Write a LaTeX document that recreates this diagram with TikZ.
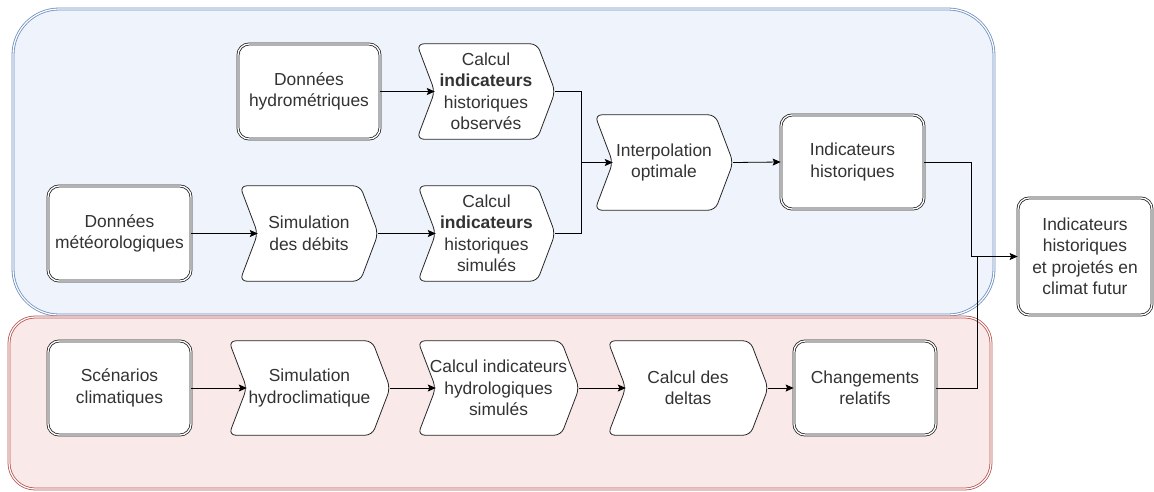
\documentclass[tikz,border=0pt]{standalone}
\usepackage{fontspec}
\setmainfont{Liberation Sans}
\usetikzlibrary{arrows.meta}
\definecolor{txt}{HTML}{333333}
\definecolor{bfill}{RGB}{239,243,251}
\definecolor{bstroke}{HTML}{6C8EBF}
\definecolor{rfill}{RGB}{250,233,233}
\definecolor{rstroke}{HTML}{B85450}
\pgfdeclarelayer{back}
\pgfdeclarelayer{mid}
\pgfsetlayers{back,mid,main}
\newcommand\chevdraw[1]{%
  \begin{pgfonlayer}{mid}
    \draw[chevline] (#1.north west) -- ([xshift=-18pt]#1.north east) -- (#1.east)
      -- ([xshift=-18pt]#1.south east) -- (#1.south west) -- ([xshift=18pt]#1.west) -- cycle;
  \end{pgfonlayer}}
\begin{document}
\begin{tikzpicture}[x=1pt,y=-1pt,
  lbl/.style={font=\fontsize{17.4}{21.5}\selectfont, text=txt, align=center, inner sep=0pt},
  dbox/.style={lbl, draw=black!85, double=white, double distance=1.3pt, line width=0.8pt,
               rounded corners=11pt, fill=white},
  chevline/.style={draw=black!85, line width=0.8pt, fill=white, rounded corners=7pt},
  container/.style={rectangle, line width=0.8pt, double=white, double distance=1.2pt, inner sep=0pt},
  conn/.style={draw=black, line width=0.8pt},
  arr/.style={conn, -{Stealth[length=8pt,width=7pt,inset=1.5pt]}}]
\useasboundingbox (0,0) rectangle (1154,491);

\begin{pgfonlayer}{back}
  \node[container, draw=bstroke, fill=bfill, rounded corners=46pt,
        minimum width=981pt, minimum height=306pt] (blue) at (503.5,162) {};
  \node[container, draw=rstroke, fill=rfill, rounded corners=26pt,
        minimum width=982pt, minimum height=172pt] (red) at (500,403) {};
\end{pgfonlayer}

% row 1
\node[dbox, minimum width=142pt, minimum height=95pt] (hydro) at (309,91.5) {Données\\hydrométriques};
\node[lbl, minimum width=138pt, minimum height=95pt] (obs) at (486,91.5) {Calcul\\\textbf{indicateurs}\\historiques\\observés};
\chevdraw{obs}
% row 2
\node[dbox, minimum width=143pt, minimum height=95pt] (meteo) at (119.5,233.5) {Données\\météorologiques};
\node[lbl, minimum width=138pt, minimum height=95pt] (simdeb) at (309,233.5) {Simulation\\des débits};
\chevdraw{simdeb}
\node[lbl, minimum width=137pt, minimum height=95pt] (simu) at (486.5,233.5) {Calcul\\\textbf{indicateurs}\\historiques\\simulés};
\chevdraw{simu}
% middle
\node[lbl, minimum width=138pt, minimum height=95pt] (interp) at (664,162.5) {Interpolation\\optimale};
\chevdraw{interp}
\node[dbox, minimum width=143pt, minimum height=94pt] (hist) at (852.5,162) {Indicateurs\\historiques};
\node[dbox, minimum width=134pt, minimum height=117pt] (final) at (1085,256.5) {Indicateurs\\historiques\\et projetés en\\climat futur};
% row 3
\node[dbox, minimum width=143pt, minimum height=94pt] (scen) at (119.5,388) {Scénarios\\climatiques};
\node[lbl, minimum width=161pt, minimum height=94pt] (simhyd) at (309.5,388) {Simulation\\hydroclimatique};
\chevdraw{simhyd}
\node[lbl, minimum width=161pt, minimum height=94pt] (calchyd) at (498.5,388) {Calcul indicateurs\\hydrologiques\\simulés};
\chevdraw{calchyd}
\node[lbl, minimum width=160pt, minimum height=94pt] (delta) at (688,388) {Calcul des\\deltas};
\chevdraw{delta}
\node[dbox, minimum width=142pt, minimum height=94pt] (chg) at (865,388) {Changements\\relatifs};

% junctions
\coordinate (j1) at (581,162.5);
\coordinate (j2) at (971,256.5);
\coordinate (j3) at (977,256.5);

% connectors
\draw[arr] (hydro.east) -- ([xshift=18pt]obs.west);
\draw[arr] (meteo.east) -- ([xshift=18pt]simdeb.west);
\draw[arr] (simdeb.east) -- ([xshift=18pt]simu.west);
\draw[conn] (obs.east) -| (j1);
\draw[conn] (simu.east) -| (j1);
\draw[arr] (j1) -- ([xshift=18pt]interp.west);
\draw[arr] (interp.east) -- (hist.west);
\draw[conn] (hist.east) -| (j2);
\draw[arr] (j2) -- (final.west);
\draw[conn] (chg.east) -| (j3);
\draw[arr] (scen.east) -- ([xshift=18pt]simhyd.west);
\draw[arr] (simhyd.east) -- ([xshift=18pt]calchyd.west);
\draw[arr] (calchyd.east) -- ([xshift=18pt]delta.west);
\draw[arr] (delta.east) -- (chg.west);
\end{tikzpicture}
\end{document}
